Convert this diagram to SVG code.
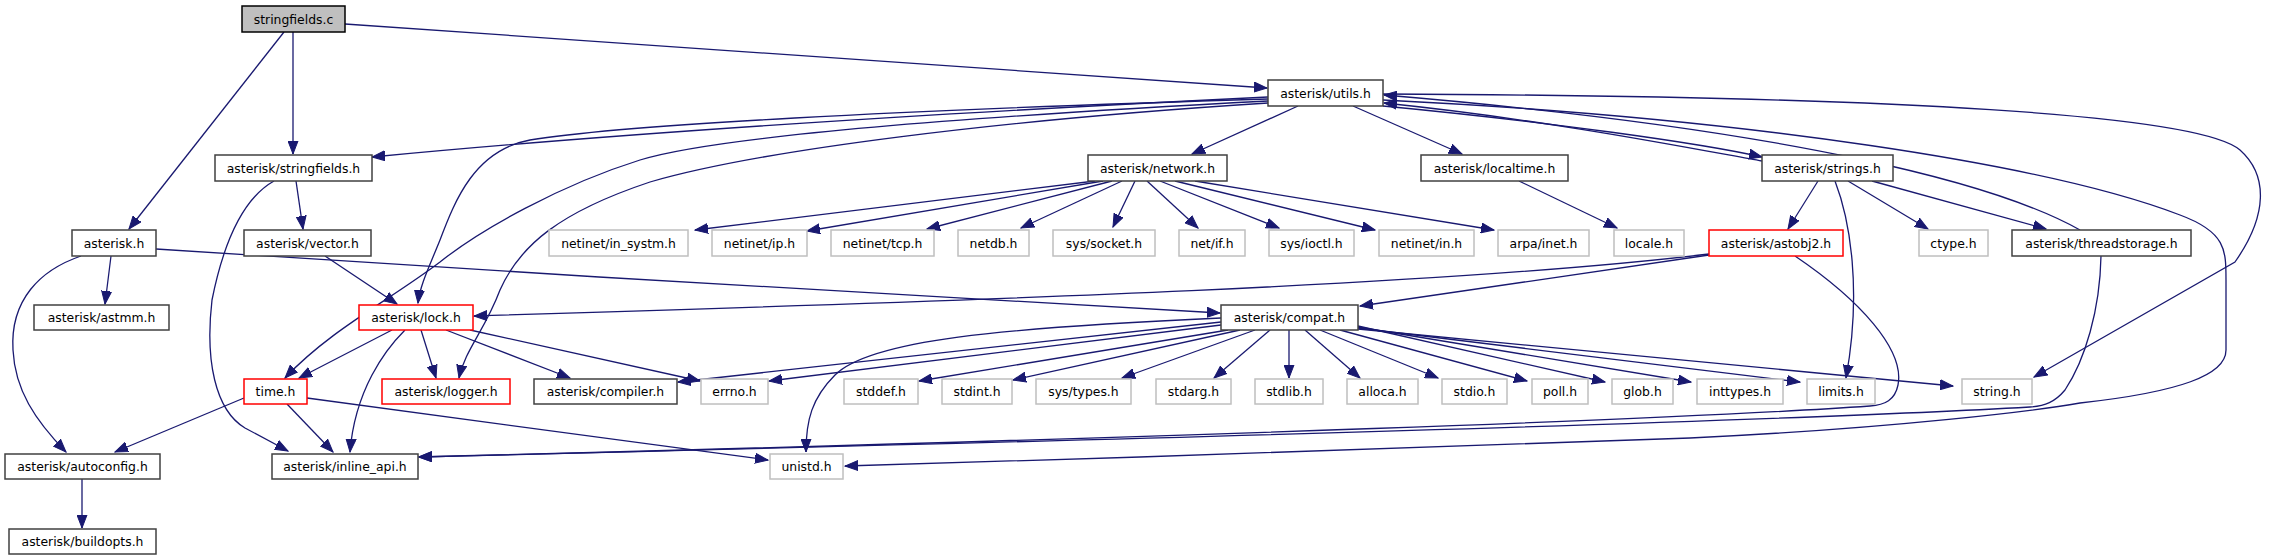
<svg xmlns="http://www.w3.org/2000/svg" width="2272" height="560" viewBox="0 0 2272 560">
<style>
.n rect{fill:#fff;stroke:#404040;stroke-width:1.5}
.n.g rect{stroke:#bfbfbf}
.n.r rect{stroke:#ff0000}
.n.root rect{fill:#bfbfbf;stroke:#000}
.n text{font-family:"DejaVu Sans",sans-serif;font-size:12.4px;text-anchor:middle;fill:#000}
#edges path{fill:none;stroke:#191970;stroke-width:1.3;marker-end:url(#a)}
</style>
<defs>
<marker id="a" markerUnits="userSpaceOnUse" markerWidth="14" markerHeight="11" refX="13" refY="5.5" orient="auto">
<path d="M0,0.5 L13,5.5 L0,10.5 z" fill="#191970" stroke="#191970" stroke-width="1"/>
</marker>
</defs>
<rect width="2272" height="560" fill="#fff"/>
<g id="edges">
<path d="M345,24 L1267,88"/>
<path d="M293,32 L293,154"/>
<path d="M284,32 L129,229"/>
<path d="M1268,97 C900,115 600,135 372,157"/>
<path d="M1298,106 L1192,154"/>
<path d="M1353,106 L1462,154"/>
<path d="M1383,106 C1550,122 1700,143 1762,157"/>
<path d="M1762,161 C1700,150 1550,120 1384,103"/>
<path d="M2080,230 C2000,185 1800,130 1384,95"/>
<path d="M1383,94 C1900,96 2200,115 2240,150 C2268,175 2268,215 2235,262 L2034,377"/>
<path d="M1383,100 C1750,118 2050,165 2180,215 C2226,232 2226,250 2226,280 L2226,350 C2226,375 2180,392 2080,403 C2040,410 1900,428 1690,438 L1140,457 L845,466"/>
<path d="M1268,99 C900,110 620,125 530,140 C475,150 455,200 440,240 C430,265 420,285 418,303"/>
<path d="M1268,101 C1000,115 720,135 640,160 C560,185 480,230 440,262 C390,300 330,330 285,378"/>
<path d="M1268,103 C1000,120 760,150 650,182 C560,212 520,245 500,290 C485,330 465,350 459,378"/>
<path d="M296,181 L303,229"/>
<path d="M274,181 C240,200 222,250 212,300 C205,360 215,410 245,428 L288,451"/>
<path d="M111,256 L105,304"/>
<path d="M81,256 C40,270 10,300 13,350 C15,390 35,420 66,452"/>
<path d="M156,249 C500,272 900,295 1220,313"/>
<path d="M325,256 L397,304"/>
<path d="M392,330 L299,378"/>
<path d="M405,330 C385,350 355,390 350,452"/>
<path d="M421,330 L436,378"/>
<path d="M446,330 L570,378"/>
<path d="M470,330 L700,381"/>
<path d="M1709,254 C1450,285 1000,300 474,316"/>
<path d="M1709,255 L1360,306"/>
<path d="M1795,256 C1860,300 1905,350 1898,385 C1895,400 1885,405 1870,406 C1700,418 1200,437 419,457"/>
<path d="M2101,256 C2100,310 2085,360 2065,390 C2055,402 2045,406 2030,407 C1800,420 1200,438 419,457"/>
<path d="M1818,181 L1788,229"/>
<path d="M1835,181 C1850,220 1862,290 1846,378"/>
<path d="M1848,181 L1928,229"/>
<path d="M1872,181 L2046,229"/>
<path d="M1519,181 L1617,228"/>
<path d="M1095,181 L695,230"/>
<path d="M1103,181 L807,231"/>
<path d="M1112,181 L927,229"/>
<path d="M1122,181 L1021,228"/>
<path d="M1135,181 L1113,227"/>
<path d="M1147,181 L1198,228"/>
<path d="M1160,181 L1279,228"/>
<path d="M1175,181 L1375,230"/>
<path d="M1195,181 L1494,230"/>
<path d="M244,398 L115,452"/>
<path d="M287,404 L333,452"/>
<path d="M307,398 L768,460"/>
<path d="M82,479 L82,528"/>
<path d="M1221,322 L678,382"/>
<path d="M1221,325 L769,381"/>
<path d="M1221,318 C1000,328 870,340 835,375 C812,398 806,420 806,452"/>
<path d="M1228,330 L919,381"/>
<path d="M1240,330 L1013,380"/>
<path d="M1255,330 L1122,378"/>
<path d="M1270,330 L1214,378"/>
<path d="M1289,330 L1289,378"/>
<path d="M1305,330 L1360,378"/>
<path d="M1320,330 L1438,378"/>
<path d="M1340,330 L1527,381"/>
<path d="M1358,326 L1605,382"/>
<path d="M1358,327 L1691,382"/>
<path d="M1358,328 L1800,382"/>
<path d="M1358,329 L1953,386"/>
</g>
<g id="stringfields_c" class="n root"><rect x="242" y="6" width="103" height="26"/><text x="293.5" y="23.5">stringfields.c</text></g>
<g id="utils_h" class="n"><rect x="1268" y="80" width="115" height="26"/><text x="1325.5" y="97.5">asterisk/utils.h</text></g>
<g id="stringfields_h" class="n"><rect x="215" y="155" width="157" height="26"/><text x="293.5" y="172.5">asterisk/stringfields.h</text></g>
<g id="network_h" class="n"><rect x="1088" y="155" width="139" height="26"/><text x="1157.5" y="172.5">asterisk/network.h</text></g>
<g id="localtime_h" class="n"><rect x="1421" y="155" width="147" height="26"/><text x="1494.5" y="172.5">asterisk/localtime.h</text></g>
<g id="strings_h" class="n"><rect x="1762" y="155" width="131" height="26"/><text x="1827.5" y="172.5">asterisk/strings.h</text></g>
<g id="asterisk_h" class="n"><rect x="72" y="230" width="84" height="26"/><text x="114" y="247.5">asterisk.h</text></g>
<g id="vector_h" class="n"><rect x="244" y="230" width="127" height="26"/><text x="307.5" y="247.5">asterisk/vector.h</text></g>
<g id="in_systm_h" class="n g"><rect x="549" y="230" width="139" height="26"/><text x="618.5" y="247.5">netinet/in_systm.h</text></g>
<g id="ip_h" class="n g"><rect x="712" y="230" width="95" height="26"/><text x="759.5" y="247.5">netinet/ip.h</text></g>
<g id="tcp_h" class="n g"><rect x="831" y="230" width="103" height="26"/><text x="882.5" y="247.5">netinet/tcp.h</text></g>
<g id="netdb_h" class="n g"><rect x="958" y="230" width="71" height="26"/><text x="993.5" y="247.5">netdb.h</text></g>
<g id="socket_h" class="n g"><rect x="1053" y="230" width="102" height="26"/><text x="1104" y="247.5">sys/socket.h</text></g>
<g id="if_h" class="n g"><rect x="1179" y="230" width="66" height="26"/><text x="1212" y="247.5">net/if.h</text></g>
<g id="ioctl_h" class="n g"><rect x="1269" y="230" width="85" height="26"/><text x="1311.5" y="247.5">sys/ioctl.h</text></g>
<g id="in_h" class="n g"><rect x="1379" y="230" width="95" height="26"/><text x="1426.5" y="247.5">netinet/in.h</text></g>
<g id="inet_h" class="n g"><rect x="1498" y="230" width="91" height="26"/><text x="1543.5" y="247.5">arpa/inet.h</text></g>
<g id="locale_h" class="n g"><rect x="1614" y="230" width="70" height="26"/><text x="1649" y="247.5">locale.h</text></g>
<g id="astobj2_h" class="n r"><rect x="1709" y="230" width="134" height="26"/><text x="1776" y="247.5">asterisk/astobj2.h</text></g>
<g id="ctype_h" class="n g"><rect x="1919" y="230" width="69" height="26"/><text x="1953.5" y="247.5">ctype.h</text></g>
<g id="threadstorage_h" class="n"><rect x="2012" y="230" width="179" height="26"/><text x="2101.5" y="247.5">asterisk/threadstorage.h</text></g>
<g id="astmm_h" class="n"><rect x="34" y="305" width="135" height="25"/><text x="101.5" y="322">asterisk/astmm.h</text></g>
<g id="lock_h" class="n r"><rect x="359" y="305" width="114" height="25"/><text x="416" y="322">asterisk/lock.h</text></g>
<g id="compat_h" class="n"><rect x="1221" y="305" width="137" height="25"/><text x="1289.5" y="322">asterisk/compat.h</text></g>
<g id="time_h" class="n r"><rect x="244" y="379" width="63" height="25"/><text x="275.5" y="396">time.h</text></g>
<g id="logger_h" class="n r"><rect x="382" y="379" width="128" height="25"/><text x="446" y="396">asterisk/logger.h</text></g>
<g id="compiler_h" class="n"><rect x="534" y="379" width="143" height="25"/><text x="605.5" y="396">asterisk/compiler.h</text></g>
<g id="errno_h" class="n g"><rect x="701" y="379" width="67" height="25"/><text x="734.5" y="396">errno.h</text></g>
<g id="stddef_h" class="n g"><rect x="844" y="379" width="74" height="25"/><text x="881" y="396">stddef.h</text></g>
<g id="stdint_h" class="n g"><rect x="942" y="379" width="70" height="25"/><text x="977" y="396">stdint.h</text></g>
<g id="types_h" class="n g"><rect x="1036" y="379" width="95" height="25"/><text x="1083.5" y="396">sys/types.h</text></g>
<g id="stdarg_h" class="n g"><rect x="1156" y="379" width="75" height="25"/><text x="1193.5" y="396">stdarg.h</text></g>
<g id="stdlib_h" class="n g"><rect x="1255" y="379" width="68" height="25"/><text x="1289" y="396">stdlib.h</text></g>
<g id="alloca_h" class="n g"><rect x="1347" y="379" width="71" height="25"/><text x="1382.5" y="396">alloca.h</text></g>
<g id="stdio_h" class="n g"><rect x="1442" y="379" width="65" height="25"/><text x="1474.5" y="396">stdio.h</text></g>
<g id="poll_h" class="n g"><rect x="1532" y="379" width="56" height="25"/><text x="1560" y="396">poll.h</text></g>
<g id="glob_h" class="n g"><rect x="1612" y="379" width="61" height="25"/><text x="1642.5" y="396">glob.h</text></g>
<g id="inttypes_h" class="n g"><rect x="1697" y="379" width="86" height="25"/><text x="1740" y="396">inttypes.h</text></g>
<g id="limits_h" class="n g"><rect x="1807" y="379" width="68" height="25"/><text x="1841" y="396">limits.h</text></g>
<g id="string_h" class="n g"><rect x="1962" y="379" width="70" height="25"/><text x="1997" y="396">string.h</text></g>
<g id="autoconfig_h" class="n"><rect x="5" y="454" width="155" height="25"/><text x="82.5" y="471">asterisk/autoconfig.h</text></g>
<g id="inline_api_h" class="n"><rect x="272" y="454" width="146" height="25"/><text x="345" y="471">asterisk/inline_api.h</text></g>
<g id="unistd_h" class="n g"><rect x="770" y="454" width="73" height="25"/><text x="806.5" y="471">unistd.h</text></g>
<g id="buildopts_h" class="n"><rect x="9" y="529" width="147" height="25"/><text x="82.5" y="546">asterisk/buildopts.h</text></g>
</svg>
